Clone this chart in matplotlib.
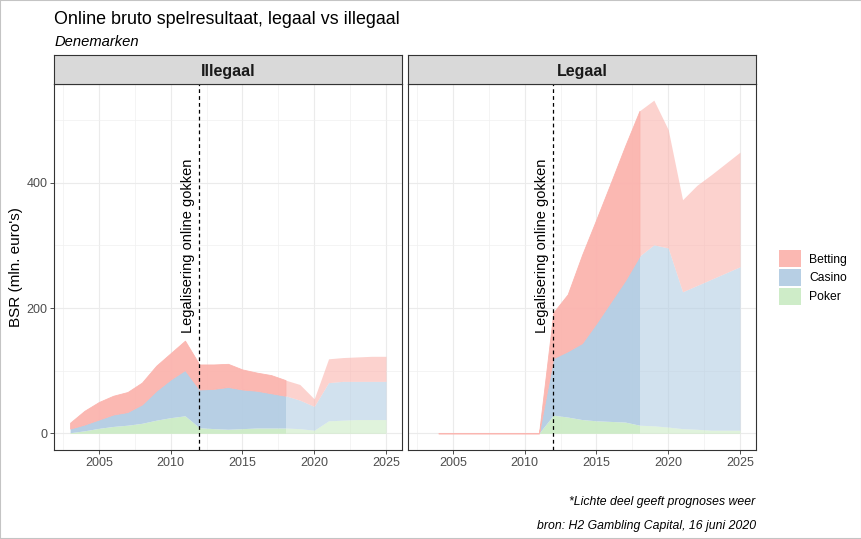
import numpy as np
import matplotlib
matplotlib.use("Agg")
import matplotlib.pyplot as plt
from matplotlib.patches import Patch, Rectangle
from matplotlib.ticker import MultipleLocator

plt.rcParams['font.family'] = ['Liberation Sans', 'DejaVu Sans']

# data (mln. euro's)
series = ["Betting", "Casino", "Poker"]
colors = {"Betting": "#FBB4AE", "Casino": "#B3CDE3", "Poker": "#CCEBC5"}

years_illegaal = list(range(2003, 2026))
poker_illegaal = [1, 4, 8, 11, 13, 16, 21, 25, 28, 9, 7.5, 6.5, 7.5, 8.5, 8.5, 8.5, 7.5, 5, 20, 21, 22, 22, 22]
casino_illegaal = [6.5, 10, 14, 19, 21, 30, 47, 61, 73, 61, 63.5, 67.5, 62.5, 59.5, 55.5, 51.5, 45.5, 38, 61, 62, 61, 61, 61]
betting_illegaal = [9.5, 22, 28, 30, 32, 35, 40, 42, 47, 40, 39, 37, 32, 29, 29, 25, 25, 12, 38, 38, 39, 40, 40]

years_legaal = list(range(2004, 2026))
poker_legaal = [0] * 8 + [29, 26, 22, 20, 19, 18, 13, 12, 10, 7.5, 6.5, 5, 5, 5]
casino_legaal = [0] * 8 + [91, 105, 122, 156, 191, 226, 270, 289, 286, 218.5, 229.5, 241, 251, 261]
betting_legaal = [0] * 8 + [73, 91, 141, 166, 190, 215, 232, 231, 189, 147, 160, 167, 175, 183]

forecast_from = 2018
legalisation_year = 2012

panels = [
    ("Illegaal", years_illegaal, {"Poker": poker_illegaal, "Casino": casino_illegaal, "Betting": betting_illegaal}),
    ("Legaal", years_legaal, {"Poker": poker_legaal, "Casino": casino_legaal, "Betting": betting_legaal}),
]

W, H = 862, 539
fig = plt.figure(figsize=(W / 100, H / 100), dpi=100)
fig.patch.set_facecolor("white")

def fx(px):
    return px / W

def fy(py):
    return 1 - py / H

panel_top, panel_bot = 83.5, 450
strip_top = 55
lefts = [54.3, 408.3]
pw = 347.5

txt_grey = "#4D4D4D"
for i, (name, yrs, vals) in enumerate(panels):
    ax = fig.add_axes([fx(lefts[i]), fy(panel_bot), fx(pw), (panel_bot - panel_top) / H])
    x = np.array(yrs)
    act = x <= forecast_from
    fc = x >= forecast_from
    base = np.zeros(len(x))
    for s in ["Poker", "Casino", "Betting"]:
        v = np.array(vals[s], dtype=float)
        top = base + v
        # actual years darker, forecast lighter
        ax.fill_between(x[act], base[act], top[act], color=colors[s], alpha=0.95,
                        lw=0.6 if s == "Betting" else 0, zorder=2)
        ax.fill_between(x[fc], base[fc], top[fc], color=colors[s], alpha=0.6, lw=0, zorder=2)
        base = top

    ax.set_xlim(2001.9, 2026.1)
    ax.set_ylim(-26.6, 558.6)
    ax.xaxis.set_major_locator(MultipleLocator(5))
    ax.xaxis.set_minor_locator(MultipleLocator(2.5))
    ax.yaxis.set_major_locator(MultipleLocator(200))
    ax.yaxis.set_minor_locator(MultipleLocator(100))
    ax.grid(which="major", color="#EBEBEB", lw=0.8, zorder=0)
    ax.grid(which="minor", color="#F0F0F0", lw=0.5, zorder=0)
    ax.set_axisbelow(True)
    ax.tick_params(which="minor", length=0)
    ax.tick_params(which="major", length=3, width=0.6, color="#333333",
                   labelcolor=txt_grey, labelsize=9, pad=2)
    for sp in ax.spines.values():
        sp.set_color("#333333")
        sp.set_linewidth(0.8)
    if i == 1:
        ax.tick_params(axis="y", left=False, labelleft=False)
    else:
        ax.set_ylabel("BSR (mln. euro's)", fontsize=11)
        ax.yaxis.set_label_coords(-0.09, 0.5)

    ax.axvline(legalisation_year, color="black", lw=0.9, ls=(0, (3, 2.5)), zorder=3)
    ax.annotate("Legalisering online gokken", xy=(legalisation_year, 300),
                xytext=(-3, 0), textcoords="offset points",
                rotation=90, ha="right", va="center", fontsize=10.5, zorder=4)

    sax = fig.add_axes([fx(lefts[i]), fy(panel_top), fx(pw), (panel_top - strip_top) / H])
    sax.set_facecolor("#D9D9D9")
    sax.set_xticks([])
    sax.set_yticks([])
    for sp in sax.spines.values():
        sp.set_color("#333333")
        sp.set_linewidth(0.8)
    sax.text(0.5, 0.42, name, ha="center", va="center", fontsize=11.5,
             fontweight="bold", color="#1A1A1A", transform=sax.transAxes)

fig.text(fx(54.3), fy(23.5), "Online bruto spelresultaat, legaal vs illegaal",
         fontsize=12.9, ha="left", va="baseline")
fig.text(fx(54.3), fy(46), "Denemarken", fontsize=10.6, style="italic",
         ha="left", va="baseline")
fig.text(fx(755), fy(501.5), "*Lichte deel geeft prognoses weer", fontsize=8.8,
         style="italic", ha="right", va="center")
fig.text(fx(756), fy(526.5), "bron: H2 Gambling Capital, 16 juni 2020", fontsize=8.8,
         style="italic", ha="right", va="center")

handles = [Patch(facecolor=colors[s], edgecolor="none", alpha=0.95) for s in series]
fig.legend(handles, series, loc="center left", bbox_to_anchor=(fx(769), fy(277.5)),
           frameon=False, fontsize=8.7, handlelength=1.85, handleheight=1.75,
           labelspacing=0.17, handletextpad=0.65, borderpad=0.3)

fig.patches.append(Rectangle((0, 0), 1, 1, transform=fig.transFigure, fill=False,
                             edgecolor="#C4C4C4", lw=1.5, zorder=10))

fig.savefig("out.png", dpi=100)
